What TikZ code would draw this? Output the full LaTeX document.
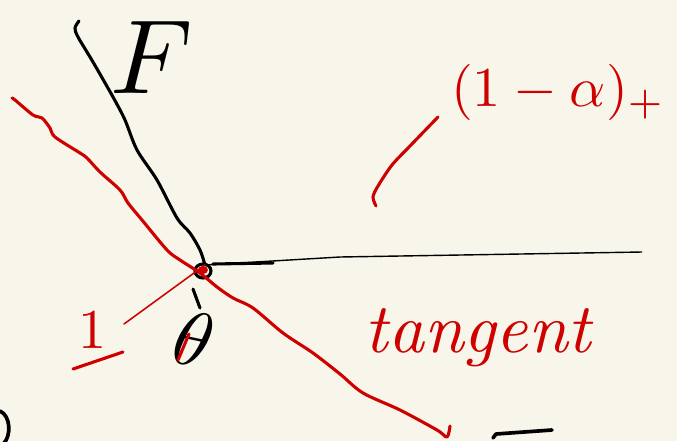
\documentclass[tikz,border=0pt]{standalone}
\usetikzlibrary{positioning}
\definecolor{paper}{RGB}{248,246,234}
\definecolor{redink}{RGB}{206,0,0}
\begin{document}
\begin{tikzpicture}[x=0.025cm,y=-0.025cm,
  pen/.style={line width=2.2pt,line cap=round,line join=round},
  redpen/.style={pen,draw=redink},
  redlabel/.style={text=redink,inner sep=0pt},
  blacklabel/.style={inner sep=0pt}]
\fill[paper] (0,0) rectangle (677,441);
\useasboundingbox (0,0) rectangle (677,441);

% kink of F
\coordinate (kink) at (205,265);
\coordinate (far) at (642,252);

% graph of F
\draw[pen] plot[smooth] coordinates {(79,21) (75,28) (78,37) (93,62) (113,97)
  (125,120) (137,150) (157,180) (177,218) (190,233) (200,250) (kink)};
\draw[line width=1pt] (kink) -- (340,257) -- (far);
\draw[pen] (213,264) -- (273,263);
\draw[pen] (203,271) ellipse (8 and 7);
\fill[redink] (203,270) ellipse (5 and 4);

% tangent line
\draw[redpen] plot[smooth] coordinates {(12,98) (15,100) (33,115) (42,118) (50,128)
  (55,137) (80,153) (87,158) (100,172) (120,190) (128,203) (142,220) (167,250)
  (180,260) (200,273) (217,287) (233,298) (253,308) (283,333) (313,353) (340,374)
  (363,393) (400,410) (437,430) (447,437) (450,426)};

% labels
\node[blacklabel,scale=7.5] (F) at (152,57) {$F$};
\node[redlabel,scale=4,anchor=west] (hinge) at (450,92) {$(1-\alpha)_+$};
\node[redlabel,scale=5,font=\itshape] (tangent) at (478,338) {tangent};
\node[redlabel,scale=4] (one) at (93,330) {$1$};
\node[blacklabel,scale=5.5,rotate=-12] (theta) at (194,339) {$\theta$};

% pointers
\coordinate (hingefoot) at (376,206);
\draw[redpen] plot[smooth] coordinates {(hingefoot) (373,197) (378,186) (392,165)
  (410,146) (438,117)};
\coordinate (onetip) at (124,324);
\draw[redpen,line width=1.1pt] (onetip) -- (kink);
\draw[redpen] (73,369) -- (123,352);
\draw[pen] (193,289) -- (200,308);
\draw[redpen] (178,360) -- (189,334);

% scraps at the bottom
\draw[pen,line width=2.6pt] (493,438) -- (496,434) -- (552,430);
\draw[pen,line width=2.6pt] (0,411) .. controls (11,416) and (11,436) .. (4,443);
\end{tikzpicture}
\end{document}
